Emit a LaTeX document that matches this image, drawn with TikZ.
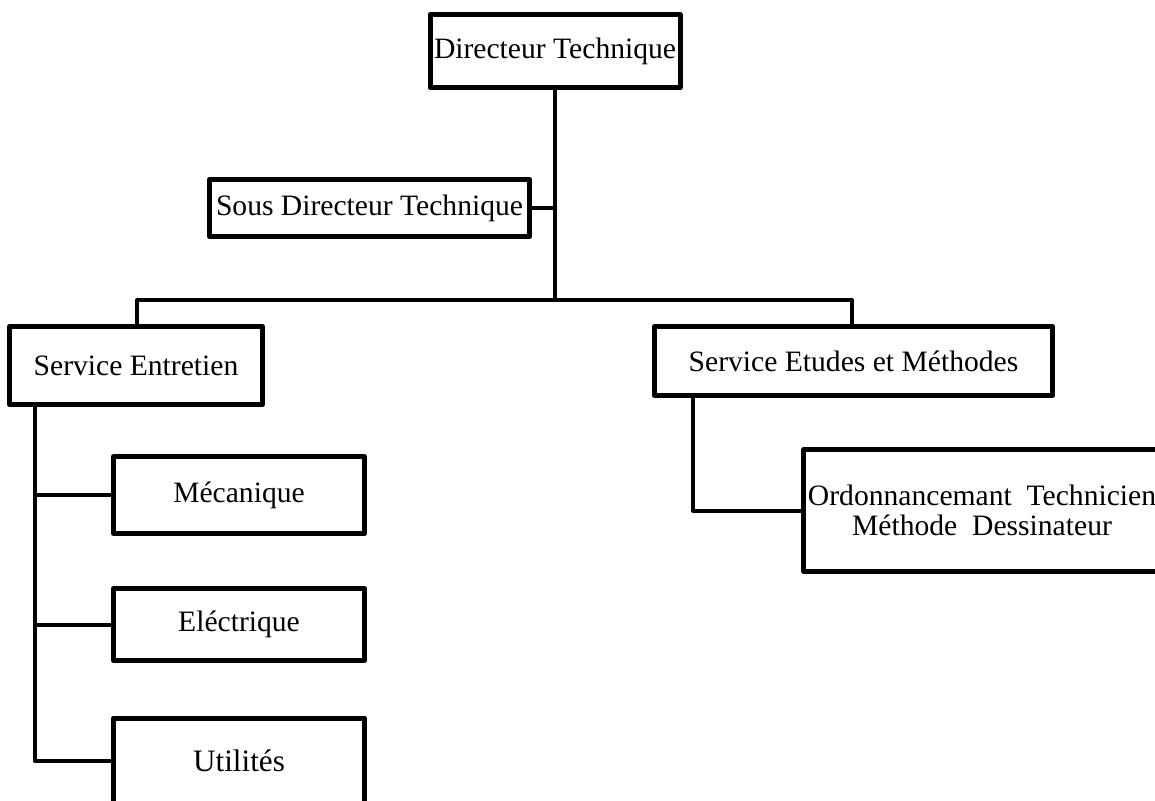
\documentclass[tikz,border=0pt]{standalone}
\usepackage{fontspec}
\setmainfont{Liberation Serif}
\usetikzlibrary{positioning}
\tikzset{
  orgbox/.style={draw,rectangle,line width=2.5pt,line join=round,align=center,inner sep=2pt,font=\fontsize{14.8}{15}\selectfont},
  link/.style={draw,line width=2pt,line join=round}
}

\begin{document}
\begin{tikzpicture}[x=0.5pt,y=-0.5pt]
\useasboundingbox (0,0) rectangle (1155,800);
\node[orgbox,minimum width=123.5pt,minimum height=36.5pt] (dir) at (555,51) {Directeur Technique};
\node[orgbox,minimum width=160pt,minimum height=28.5pt] (sousdir) at (369.5,208) {Sous Directeur Technique};
\node[orgbox,minimum width=126.5pt,minimum height=39pt] (entretien) at (136,365.5) {Service Entretien};
\node[orgbox,minimum width=199pt,minimum height=34.5pt] (etudes) at (853.5,361) {Service Etudes et Méthodes};
\node[orgbox,minimum width=125.5pt,minimum height=38.5pt] (meca) at (239,495) {Mécanique};
\node[orgbox,minimum width=125.5pt,minimum height=36pt] (elec) at (239,624.5) {Eléctrique};
\node[orgbox,minimum width=125.5pt,minimum height=43pt,font=\fontsize{15.6}{16}\selectfont] (util) at (239,761) {Utilités};
\node[orgbox,minimum width=178pt,minimum height=61pt] (ordo) at (982,510.5) {Ordonnancemant\ \ Technicien\\Méthode\ \ Dessinateur};
% connectors
\coordinate (hub) at (555,300);
\coordinate (lspine) at (35,404);
\coordinate (rspine) at (693,397);
\draw[link] (dir) -- (hub);
\draw[link] (sousdir.east) -- (sousdir.east -| hub);
\draw[link] (entretien.north -| 137,0) |- (hub) -| (etudes.north -| 852,0);
\draw[link] (entretien.south -| lspine) |- (util.west);
\draw[link] (lspine |- meca) -- (meca.west);
\draw[link] (lspine |- elec) -- (elec.west);
\draw[link] (etudes.south -| rspine) |- (ordo.west);
\end{tikzpicture}
\end{document}
